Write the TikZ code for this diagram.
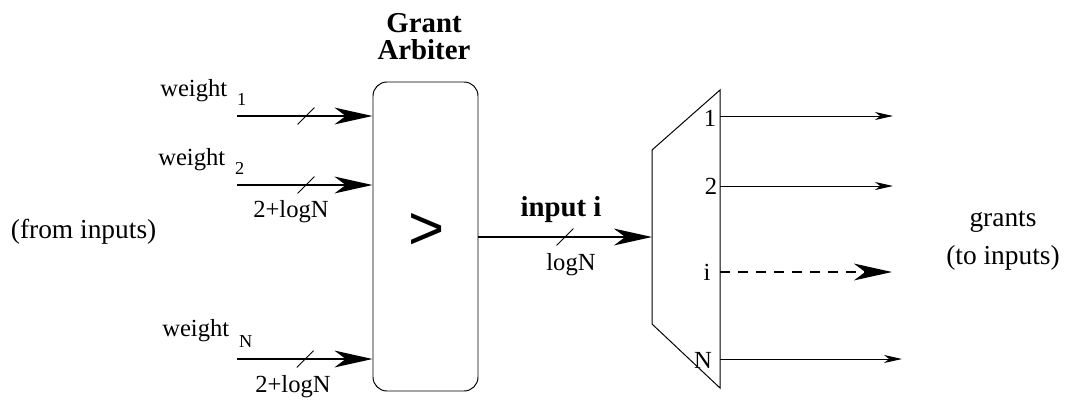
\documentclass[tikz,border=0pt]{standalone}
\usepackage{fontspec}
\setmainfont{Liberation Serif}
\newfontfamily\gtfont{Liberation Sans}
\usetikzlibrary{arrows.meta}

\begin{document}
\begin{tikzpicture}[
    bigarrow/.style={line width=1.4pt, -{Stealth[length=0.95cm, width=0.42cm, inset=0.28cm]}},
    thinarrow/.style={line width=0.7pt, -{Stealth[length=0.45cm, width=0.2cm, inset=0.13cm]}},
    lbl/.style={inner sep=0pt, font=\fontsize{17.5}{21}\selectfont},
    wlbl/.style={lbl, anchor=base west},
    bold/.style={inner sep=0pt, font=\fontsize{20.5}{19}\selectfont\bfseries, align=center},
  ]
  \useasboundingbox (0,0) rectangle (26.65,9.975);

  % arbiter
  \node[draw, rounded corners=0.35cm, line width=0.7pt, minimum width=2.625cm, minimum height=7.725cm] (arb) at (10.6375,4.0625) {};
  \node[inner sep=0pt, font=\gtfont\fontsize{44}{44}\selectfont] (gt) at (10.675,4.2) {>};
  \node[bold] (title) at (10.6,9.06) {Grant\\Arbiter};

  % weights in
  \coordinate (s1) at (5.925,7.075);
  \coordinate (s2) at (5.925,5.35);
  \coordinate (sN) at (5.925,1.0);
  \draw[bigarrow] (s1) -- (s1 -| arb.west);
  \draw[bigarrow] (s2) -- (s2 -| arb.west);
  \draw[bigarrow] (sN) -- (sN -| arb.west);
  \draw[line width=0.7pt] (7.44,6.865) -- (7.86,7.285);
  \draw[line width=0.7pt] (7.44,5.14) -- (7.86,5.56);
  \draw[line width=0.7pt] (7.42,0.79) -- (7.84,1.21);

  \node[wlbl] (w1) at (4.0,7.575) {weight\hspace{7pt}\raisebox{-7pt}{\fontsize{13}{13}\selectfont 1}};
  \node[wlbl] (w2) at (3.95,5.85) {weight\hspace{7pt}\raisebox{-7pt}{\fontsize{13}{13}\selectfont 2}};
  \node[wlbl] (wN) at (4.05,1.575) {weight\hspace{7pt}\raisebox{-8pt}{\fontsize{13}{13}\selectfont N}};
  \node[lbl] (n2) at (7.275,4.675) {2+logN};
  \node[lbl] (nN) at (7.325,0.3) {2+logN};
  \node[inner sep=0pt, font=\fontsize{19.5}{23}\selectfont] (from) at (2.09,4.175) {(from inputs)};

  % selected input
  \coordinate (in) at (16.3,4.05);
  \draw[bigarrow] (arb.east |- in) -- (in);
  \draw[line width=0.7pt] (13.915,3.84) -- (14.335,4.26);
  \node[bold] (sel) at (14.025,4.725) {input i};
  \node[lbl] (nlog) at (14.275,3.35) {logN};

  % demux
  \draw[line width=0.7pt] (16.3,6.225) -- (18,7.725) -- (18,0.275) -- (16.3,1.875) -- cycle;
  \coordinate (o1) at (18,7.075);
  \coordinate (o2) at (18,5.325);
  \coordinate (oi) at (18,3.175);
  \coordinate (oN) at (18,1.0);
  \coordinate (g1) at (22.325,7.075);
  \coordinate (g2) at (22.325,5.325);
  \coordinate (gi) at (22.3,3.175);
  \coordinate (gN) at (22.55,1.0);
  \draw[thinarrow] (o1) -- (g1);
  \draw[thinarrow] (o2) -- (g2);
  \draw[bigarrow, dash pattern=on 0.25cm off 0.2cm] (oi) -- (gi);
  \draw[thinarrow] (oN) -- (gN);
  \node[lbl] (l1) at (17.75,7.025) {1};
  \node[lbl] (l2) at (17.775,5.325) {2};
  \node[lbl] (li) at (17.675,3.175) {i};
  \node[lbl] (lN) at (17.575,0.975) {N};

  \node[inner sep=0pt, font=\fontsize{19.5}{27}\selectfont, align=center] (grants) at (25.075,3.95) {grants\\(to inputs)};
\end{tikzpicture}
\end{document}
